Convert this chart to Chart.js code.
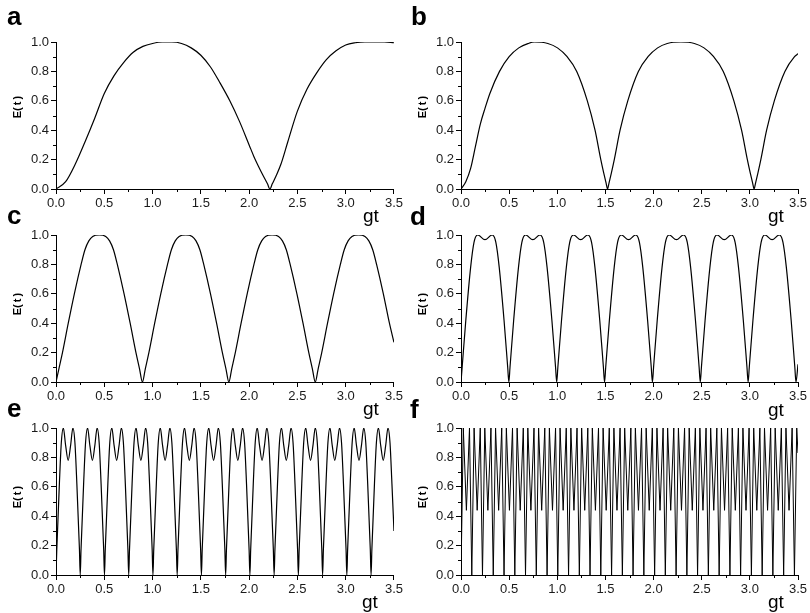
<!DOCTYPE html>
<html><head><meta charset="utf-8">
<script src="https://cdn.jsdelivr.net/npm/chart.js@4/dist/chart.umd.min.js"></script>
<style>
html,body{margin:0;padding:0;background:#fff;}
#wrap{position:relative;width:810px;height:613px;overflow:hidden;font-family:"Liberation Sans",Arial,sans-serif;background:#fff;}
canvas{position:absolute;}
.lab{position:absolute;font-weight:bold;font-size:26px;line-height:26px;color:#000;}
.gt{position:absolute;font-size:19px;line-height:19px;color:#000;}
.et{position:absolute;width:40px;height:14px;text-align:center;font-weight:bold;font-size:11px;line-height:14px;word-spacing:-1px;color:#000;transform:rotate(-90deg);white-space:pre;}
</style></head>
<body><div id="wrap"></div>
<script>
// ---- tick values and labels ----
const xTicks = [0, 0.5, 1.0, 1.5, 2.0, 2.5, 3.0, 3.5];
const xTickLabels = ['0.0','0.5','1.0','1.5','2.0','2.5','3.0','3.5'];
const xMinorTicks = [0.25, 0.75, 1.25, 1.75, 2.25, 2.75, 3.25];
const yTicks = [0, 0.2, 0.4, 0.6, 0.8, 1.0];
const yTickLabels = ['0.0','0.2','0.4','0.6','0.8','1.0'];
const yMinorTicks = [0.1, 0.3, 0.5, 0.7, 0.9];
const panelLetters = ['a','b','c','d','e','f'];
const xTitle = 'gt';
const yTitle = 'E( t )';

// ---- series (gt, E(t)) ----
const aT = [0,0.1,0.2,0.3,0.4,0.5,0.6,0.7,0.8,0.9,1.0,1.1,1.2,1.3,1.4,1.5,1.6,1.7,1.8,1.9,2.0,2.05,2.1,2.15,2.19,2.215,2.24,2.28,2.33,2.4,2.5,2.6,2.7,2.8,2.9,3.0,3.1,3.2,3.3,3.4,3.5];
const aE = [0,0.05,0.17,0.32,0.48,0.65,0.77,0.86,0.93,0.97,0.99,1.0,1.0,0.99,0.96,0.91,0.83,0.72,0.6,0.46,0.3,0.22,0.15,0.085,0.035,0,0.035,0.09,0.17,0.32,0.53,0.68,0.79,0.88,0.94,0.98,0.995,1.0,1.0,1.0,0.995];

const bT = [0,0.05,0.1,0.15,0.2,0.25,0.3,0.4,0.5,0.6,0.7,0.761,
0.902,1.002,1.102,1.202,1.312,1.392,1.452,1.482,1.507,1.522,
1.537,1.562,1.592,1.652,1.732,1.842,1.942,2.042,2.142,2.283,
2.424,2.524,2.624,2.724,2.834,2.914,2.974,3.004,3.029,3.044,
3.059,3.084,3.114,3.174,3.254,3.364,3.464,3.5];
const bE = [0,0.05,0.14,0.29,0.44,0.55,0.65,0.8,0.9,0.96,0.99,1.0,
0.99,0.96,0.9,0.8,0.6,0.4,0.2,0.11,0.04,0,
0.04,0.11,0.2,0.4,0.6,0.8,0.9,0.96,0.99,1.0,
0.99,0.96,0.9,0.8,0.6,0.4,0.2,0.11,0.04,0,
0.04,0.11,0.2,0.4,0.6,0.8,0.9,0.92];

const cT = [0,0.03,0.067,0.127,0.19,0.26,0.3,0.34,0.38,0.448,0.515,0.555,0.595,0.635,0.705,0.768,0.828,0.865,
0.895,0.925,0.962,1.022,1.085,1.155,1.195,1.235,1.275,1.343,1.41,1.45,1.49,1.53,1.6,1.663,1.723,1.76,
1.79,1.82,1.857,1.917,1.98,2.05,2.09,2.13,2.17,2.238,2.305,2.345,2.385,2.425,2.495,2.558,2.618,2.655,
2.685,2.715,2.752,2.812,2.875,2.945,2.985,3.025,3.065,3.133,3.2,3.24,3.28,3.32,3.39,3.453,3.5];
const cE = [0,0.09,0.2,0.4,0.6,0.8,0.9,0.96,0.99,1.0,0.99,0.96,0.9,0.8,0.6,0.4,0.2,0.09,
0,0.09,0.2,0.4,0.6,0.8,0.9,0.96,0.99,1.0,0.99,0.96,0.9,0.8,0.6,0.4,0.2,0.09,
0,0.09,0.2,0.4,0.6,0.8,0.9,0.96,0.99,1.0,0.99,0.96,0.9,0.8,0.6,0.4,0.2,0.09,
0,0.09,0.2,0.4,0.6,0.8,0.9,0.96,0.99,1.0,0.99,0.96,0.9,0.8,0.6,0.4,0.27];

const dT = [0,0.012,0.05,0.1,0.135,0.173,0.249,0.324,0.362,0.397,0.447,0.485,
0.497,0.509,0.547,0.597,0.632,0.67,0.746,0.821,0.859,0.894,0.944,0.982,
0.994,1.006,1.044,1.094,1.129,1.167,1.243,1.318,1.356,1.391,1.441,1.479,
1.491,1.503,1.541,1.591,1.626,1.664,1.74,1.815,1.853,1.888,1.938,1.976,
1.988,2.0,2.038,2.088,2.123,2.161,2.237,2.312,2.35,2.385,2.435,2.473,
2.485,2.497,2.535,2.585,2.62,2.658,2.734,2.809,2.847,2.882,2.932,2.97,
2.982,2.994,3.032,3.082,3.117,3.155,3.231,3.306,3.344,3.379,3.429,3.467,
3.479,3.5];
const dE = [0,0.1,0.42,0.78,0.95,1.0,0.968,1.0,0.95,0.78,0.42,0.1,
0,0.1,0.42,0.78,0.95,1.0,0.968,1.0,0.95,0.78,0.42,0.1,
0,0.1,0.42,0.78,0.95,1.0,0.968,1.0,0.95,0.78,0.42,0.1,
0,0.1,0.42,0.78,0.95,1.0,0.968,1.0,0.95,0.78,0.42,0.1,
0,0.1,0.42,0.78,0.95,1.0,0.968,1.0,0.95,0.78,0.42,0.1,
0,0.1,0.42,0.78,0.95,1.0,0.968,1.0,0.95,0.78,0.42,0.1,
0,0.1,0.42,0.78,0.95,1.0,0.968,1.0,0.95,0.78,0.42,0.1,
0,0.12];

const eT = [0,0.008,0.035,0.055,0.076,0.1,0.126,0.151,0.175,0.196,0.216,0.243,
0.251,0.259,0.286,0.306,0.327,0.351,0.377,0.402,0.426,0.447,0.467,0.494,
0.502,0.51,0.537,0.557,0.578,0.602,0.628,0.653,0.677,0.698,0.718,0.745,
0.753,0.761,0.788,0.808,0.829,0.853,0.879,0.904,0.928,0.949,0.969,0.996,
1.004,1.012,1.039,1.059,1.08,1.104,1.13,1.155,1.179,1.2,1.22,1.247,
1.255,1.263,1.29,1.31,1.331,1.355,1.381,1.406,1.43,1.451,1.471,1.498,
1.506,1.514,1.541,1.561,1.582,1.606,1.632,1.657,1.681,1.702,1.722,1.749,
1.757,1.765,1.792,1.812,1.833,1.857,1.883,1.908,1.932,1.953,1.973,2.0,
2.008,2.016,2.043,2.063,2.084,2.108,2.134,2.159,2.183,2.204,2.224,2.251,
2.259,2.267,2.294,2.314,2.335,2.359,2.385,2.41,2.434,2.455,2.475,2.502,
2.51,2.518,2.545,2.565,2.586,2.61,2.636,2.661,2.685,2.706,2.726,2.753,
2.761,2.769,2.796,2.816,2.837,2.861,2.887,2.912,2.936,2.957,2.977,3.004,
3.012,3.02,3.047,3.067,3.088,3.112,3.138,3.163,3.187,3.208,3.228,3.255,
3.263,3.271,3.298,3.318,3.339,3.363,3.389,3.414,3.438,3.459,3.479,3.5];
const eE = [0,0.17,0.62,0.9,1.0,0.88,0.78,0.88,1.0,0.9,0.62,0.17,
0,0.17,0.62,0.9,1.0,0.88,0.78,0.88,1.0,0.9,0.62,0.17,
0,0.17,0.62,0.9,1.0,0.88,0.78,0.88,1.0,0.9,0.62,0.17,
0,0.17,0.62,0.9,1.0,0.88,0.78,0.88,1.0,0.9,0.62,0.17,
0,0.17,0.62,0.9,1.0,0.88,0.78,0.88,1.0,0.9,0.62,0.17,
0,0.17,0.62,0.9,1.0,0.88,0.78,0.88,1.0,0.9,0.62,0.17,
0,0.17,0.62,0.9,1.0,0.88,0.78,0.88,1.0,0.9,0.62,0.17,
0,0.17,0.62,0.9,1.0,0.88,0.78,0.88,1.0,0.9,0.62,0.17,
0,0.17,0.62,0.9,1.0,0.88,0.78,0.88,1.0,0.9,0.62,0.17,
0,0.17,0.62,0.9,1.0,0.88,0.78,0.88,1.0,0.9,0.62,0.17,
0,0.17,0.62,0.9,1.0,0.88,0.78,0.88,1.0,0.9,0.62,0.17,
0,0.17,0.62,0.9,1.0,0.88,0.78,0.88,1.0,0.9,0.62,0.17,
0,0.17,0.62,0.9,1.0,0.88,0.78,0.88,1.0,0.9,0.62,0.17,
0,0.17,0.62,0.9,1.0,0.88,0.78,0.88,1.0,0.9,0.62,0.3];

const fT = [0,0.024,0.056,0.088, 0.112,0.136,0.168,0.2, 0.223,0.247,0.279,0.311, 0.335,0.359,0.391,0.423,
0.447,0.471,0.503,0.535, 0.559,0.583,0.615,0.647, 0.67,0.694,0.726,0.758, 0.782,0.806,0.838,0.87,
0.894,0.918,0.95,0.982, 1.005,1.029,1.061,1.093, 1.117,1.141,1.173,1.205, 1.229,1.253,1.285,1.317,
1.34,1.364,1.396,1.428, 1.452,1.476,1.508,1.54, 1.564,1.588,1.62,1.652, 1.676,1.7,1.732,1.764,
1.787,1.811,1.843,1.875, 1.899,1.923,1.955,1.987, 2.011,2.035,2.067,2.099, 2.122,2.146,2.178,2.21,
2.234,2.258,2.29,2.322, 2.346,2.37,2.402,2.434, 2.457,2.481,2.513,2.545, 2.569,2.593,2.625,2.657,
2.681,2.705,2.737,2.769, 2.793,2.817,2.849,2.881, 2.904,2.928,2.96,2.992, 3.016,3.04,3.072,3.104,
3.128,3.152,3.184,3.216, 3.239,3.263,3.295,3.327, 3.351,3.375,3.407,3.439, 3.463,3.487,3.5];
const fE = [0,1,0.44,1, 0,1,0.44,1, 0,1,0.44,1, 0,1,0.44,1,
0,1,0.44,1, 0,1,0.44,1, 0,1,0.44,1, 0,1,0.44,1,
0,1,0.44,1, 0,1,0.44,1, 0,1,0.44,1, 0,1,0.44,1,
0,1,0.44,1, 0,1,0.44,1, 0,1,0.44,1, 0,1,0.44,1,
0,1,0.44,1, 0,1,0.44,1, 0,1,0.44,1, 0,1,0.44,1,
0,1,0.44,1, 0,1,0.44,1, 0,1,0.44,1, 0,1,0.44,1,
0,1,0.44,1, 0,1,0.44,1, 0,1,0.44,1, 0,1,0.44,1,
0,1,0.44,1, 0,1,0.44,1, 0,1,0.44,1, 0,1,0.83];

// ---- layout ----
const FONT = '"Liberation Sans", Arial, sans-serif';
const colLeft = [0, 405];
const rowTop = [0, 193, 386];
const series = [[aT,aE,'monotone'],[bT,bE,'monotone'],[cT,cE,'monotone'],[dT,dE,'monotone'],[eT,eE,'monotone'],[fT,fE,'default']];
const letterPos = [[7,3],[411,3],[7,202],[410,203],[7,395],[410,396]];
const gtPos = [[363,206],[768,206],[363,399],[768,400],[362,592],[768,592]];
const etCenterY = [107,107,304,304,497,497];

const minorTickPlugin = {
  id: 'minorTicks',
  afterDraw(chart) {
    const ctx = chart.ctx, xs = chart.scales.x, ys = chart.scales.y, ca = chart.chartArea;
    ctx.save();
    ctx.strokeStyle = '#000';
    ctx.lineWidth = 1;
    ctx.beginPath();
    xMinorTicks.forEach(v => {
      const px = Math.round(xs.getPixelForValue(v)) + 0.5;
      ctx.moveTo(px, ca.bottom); ctx.lineTo(px, ca.bottom + 3);
    });
    yMinorTicks.forEach(v => {
      const py = Math.round(ys.getPixelForValue(v)) + 0.5;
      ctx.moveTo(ca.left - 3, py); ctx.lineTo(ca.left, py);
    });
    ctx.stroke();
    ctx.restore();
  }
};

const wrap = document.getElementById('wrap');
series.forEach((s, i) => {
  const col = i % 2, row = Math.floor(i / 2);
  const cv = document.createElement('canvas');
  cv.width = 405; cv.height = 215;
  cv.style.left = colLeft[col] + 'px';
  cv.style.top = rowTop[row] + 'px';
  cv.style.width = '405px'; cv.style.height = '215px';
  wrap.appendChild(cv);
  const [T, E, mode] = s;
  new Chart(cv.getContext('2d'), {
    type: 'line',
    data: { datasets: [{
      data: T.map((t, k) => ({x: t, y: E[k]})),
      borderColor: '#000', borderWidth: i === 5 ? 1 : 1.2,
      pointRadius: 0, fill: false, tension: 0,
      cubicInterpolationMode: mode
    }]},
    options: {
      responsive: false, animation: false,
      layout: { padding: { top: 42, left: 0, right: col === 0 ? 11 : 12, bottom: 6 } },
      plugins: { legend: { display: false }, tooltip: { enabled: false } },
      scales: {
        x: {
          type: 'linear', min: 0, max: 3.5,
          afterBuildTicks: sc => { sc.ticks = xTicks.map(v => ({value: v})); },
          afterFit: sc => { sc.height = 20; },
          grid: { drawOnChartArea: false, tickLength: 5, color: '#000', lineWidth: 1 },
          border: { display: true, color: '#000', width: 1 },
          ticks: { autoSkip: false, maxRotation: 0, padding: 2, color: '#1a1a1a',
                   font: { family: FONT, size: 13 },
                   callback: (v, k) => xTickLabels[k] }
        },
        y: {
          type: 'linear', min: 0, max: 1,
          afterBuildTicks: sc => { sc.ticks = yTicks.map(v => ({value: v})); },
          afterFit: sc => { sc.width = 56; },
          grid: { drawOnChartArea: false, tickLength: 5, color: '#000', lineWidth: 1 },
          border: { display: true, color: '#000', width: 1 },
          ticks: { autoSkip: false, padding: 2, color: '#1a1a1a',
                   font: { family: FONT, size: 13 },
                   callback: (v, k) => yTickLabels[k] }
        }
      }
    },
    plugins: [minorTickPlugin]
  });
  const L = document.createElement('div');
  L.className = 'lab'; L.textContent = panelLetters[i];
  L.style.left = letterPos[i][0] + 'px'; L.style.top = letterPos[i][1] + 'px';
  wrap.appendChild(L);
  const G = document.createElement('div');
  G.className = 'gt'; G.textContent = xTitle;
  G.style.left = gtPos[i][0] + 'px'; G.style.top = gtPos[i][1] + 'px';
  wrap.appendChild(G);
  const Y = document.createElement('div');
  Y.className = 'et'; Y.textContent = yTitle;
  Y.style.left = (colLeft[col] + 17 - 20) + 'px';
  Y.style.top = (etCenterY[i] - 7) + 'px';
  wrap.appendChild(Y);
});
</script>
</body></html>
